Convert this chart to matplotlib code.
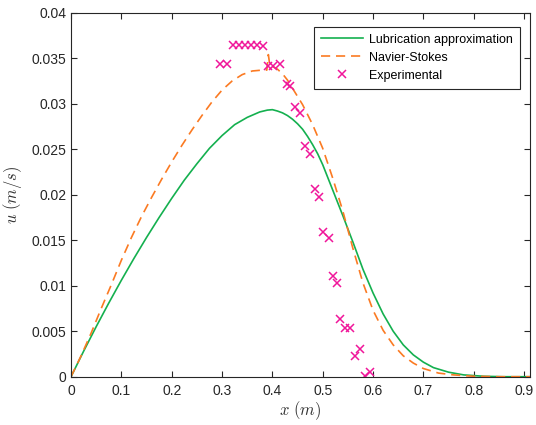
import numpy as np
import matplotlib
matplotlib.use('Agg')
import matplotlib.pyplot as plt

plt.rcParams['font.family'] = ['Liberation Sans', 'DejaVu Sans']
plt.rcParams['mathtext.fontset'] = 'cm'

# Lubrication approximation
x_lub = [0, 0.025, 0.05, 0.075, 0.10, 0.125, 0.15, 0.175, 0.20, 0.225, 0.25,
         0.275, 0.30, 0.325, 0.35, 0.375, 0.39, 0.40, 0.41, 0.42, 0.43, 0.44,
         0.45, 0.46, 0.47, 0.48, 0.49, 0.50, 0.52, 0.54, 0.56, 0.58, 0.60,
         0.62, 0.64, 0.66, 0.68, 0.70, 0.72, 0.75, 0.78, 0.82, 0.86, 0.912]
u_lub = [0, 0.0028, 0.0055, 0.0081, 0.0106, 0.0130, 0.0153, 0.0175, 0.0196,
         0.0216, 0.0234, 0.0251, 0.0265, 0.0277, 0.0285, 0.0291, 0.0293,
         0.02935, 0.0292, 0.0290, 0.0287, 0.0283, 0.0278, 0.0272, 0.0264,
         0.0255, 0.0245, 0.0233, 0.0205, 0.0177, 0.0148, 0.0118, 0.0092,
         0.0069, 0.0050, 0.0035, 0.0024, 0.0016, 0.0010, 0.0005, 0.0002,
         0.00005, 0, 0]

# Navier-Stokes
x_ns = [0, 0.02, 0.04, 0.06, 0.08, 0.10, 0.12, 0.14, 0.16, 0.18, 0.20, 0.22,
        0.24, 0.26, 0.28, 0.30, 0.32, 0.34, 0.36, 0.38, 0.389, 0.392, 0.395,
        0.40, 0.41, 0.42, 0.43, 0.44, 0.46, 0.48, 0.50, 0.52, 0.54, 0.56,
        0.58, 0.60, 0.62, 0.64, 0.66, 0.68, 0.70, 0.73, 0.76, 0.80, 0.85, 0.912]
u_ns = [0, 0.0023, 0.0048, 0.0075, 0.0101, 0.0128, 0.0153, 0.0176, 0.0197,
        0.0217, 0.0236, 0.0254, 0.0271, 0.0287, 0.0302, 0.0315, 0.0325,
        0.0332, 0.0336, 0.0337, 0.0337, 0.0354, 0.0342, 0.0341, 0.0338,
        0.0333, 0.0326, 0.0317, 0.0299, 0.0277, 0.0251, 0.0218, 0.0182,
        0.0141, 0.0103, 0.0073, 0.0051, 0.0035, 0.0023, 0.0015, 0.0009,
        0.0004, 0.0002, 0.00005, 0, 0]

# Experimental
x_exp = [0.296, 0.310, 0.321, 0.333, 0.346, 0.358, 0.370, 0.382, 0.392, 0.402,
         0.415, 0.429, 0.435, 0.445, 0.455, 0.465, 0.474, 0.484, 0.493, 0.500,
         0.512, 0.520, 0.528, 0.535, 0.545, 0.555, 0.565, 0.575, 0.585, 0.594]
u_exp = [0.0344, 0.0344, 0.0365, 0.0365, 0.0365, 0.0365, 0.0365, 0.0363,
         0.0341, 0.0341, 0.0344, 0.0322, 0.0319, 0.0296, 0.0290, 0.02535,
         0.02447, 0.0206, 0.0197, 0.0159, 0.0152, 0.0111, 0.0103, 0.0063,
         0.0054, 0.0054, 0.0023, 0.0031, 0.0001, 0.00055]

fig = plt.figure(figsize=(5.36, 4.25), dpi=100)
ax = fig.add_axes([0.1325, 0.1136, 0.989 - 0.1325, 0.970 - 0.1136])

ax.plot(x_lub, u_lub, color='#14b04f', lw=1.2, label='Lubrication approximation')
ax.plot(x_ns, u_ns, color='#fb7a22', lw=1.2, ls=(0, (5.5, 3.5)), label='Navier-Stokes')
ax.plot(x_exp, u_exp, ls='none', marker='x', color='#f0169a', ms=6, mew=1.1,
        label='Experimental')

ax.set_xlim(0, 0.912)
ax.set_ylim(0, 0.04)
ax.set_xticks(np.arange(0, 0.91, 0.1))
ax.set_xticklabels(['0', '0.1', '0.2', '0.3', '0.4', '0.5', '0.6', '0.7', '0.8', '0.9'])
ax.set_yticks(np.arange(0, 0.0401, 0.005))
ax.set_yticklabels(['0', '0.005', '0.01', '0.015', '0.02', '0.025', '0.03', '0.035', '0.04'])
ax.tick_params(direction='in', top=True, right=True, length=4, width=0.8,
               labelsize=10, colors='#262626')
ax.tick_params(axis='x', pad=5)
for s in ax.spines.values():
    s.set_color('#262626')
    s.set_linewidth(0.8)

ax.set_xlabel(r'$x\ (m)$', fontsize=12, color='#333333', labelpad=1)
ax.set_ylabel(r'$u\ (m/s)$', fontsize=12, color='#333333', labelpad=5)

leg = ax.legend(loc='upper right', bbox_to_anchor=(0.978, 0.9615),
                borderaxespad=0, fontsize=9, fancybox=False, framealpha=1,
                edgecolor='#262626', handlelength=3.4, handletextpad=0.5,
                labelspacing=0.48, borderpad=0.55)
leg.get_frame().set_linewidth(0.8)

fig.savefig('out.png', dpi=100)
